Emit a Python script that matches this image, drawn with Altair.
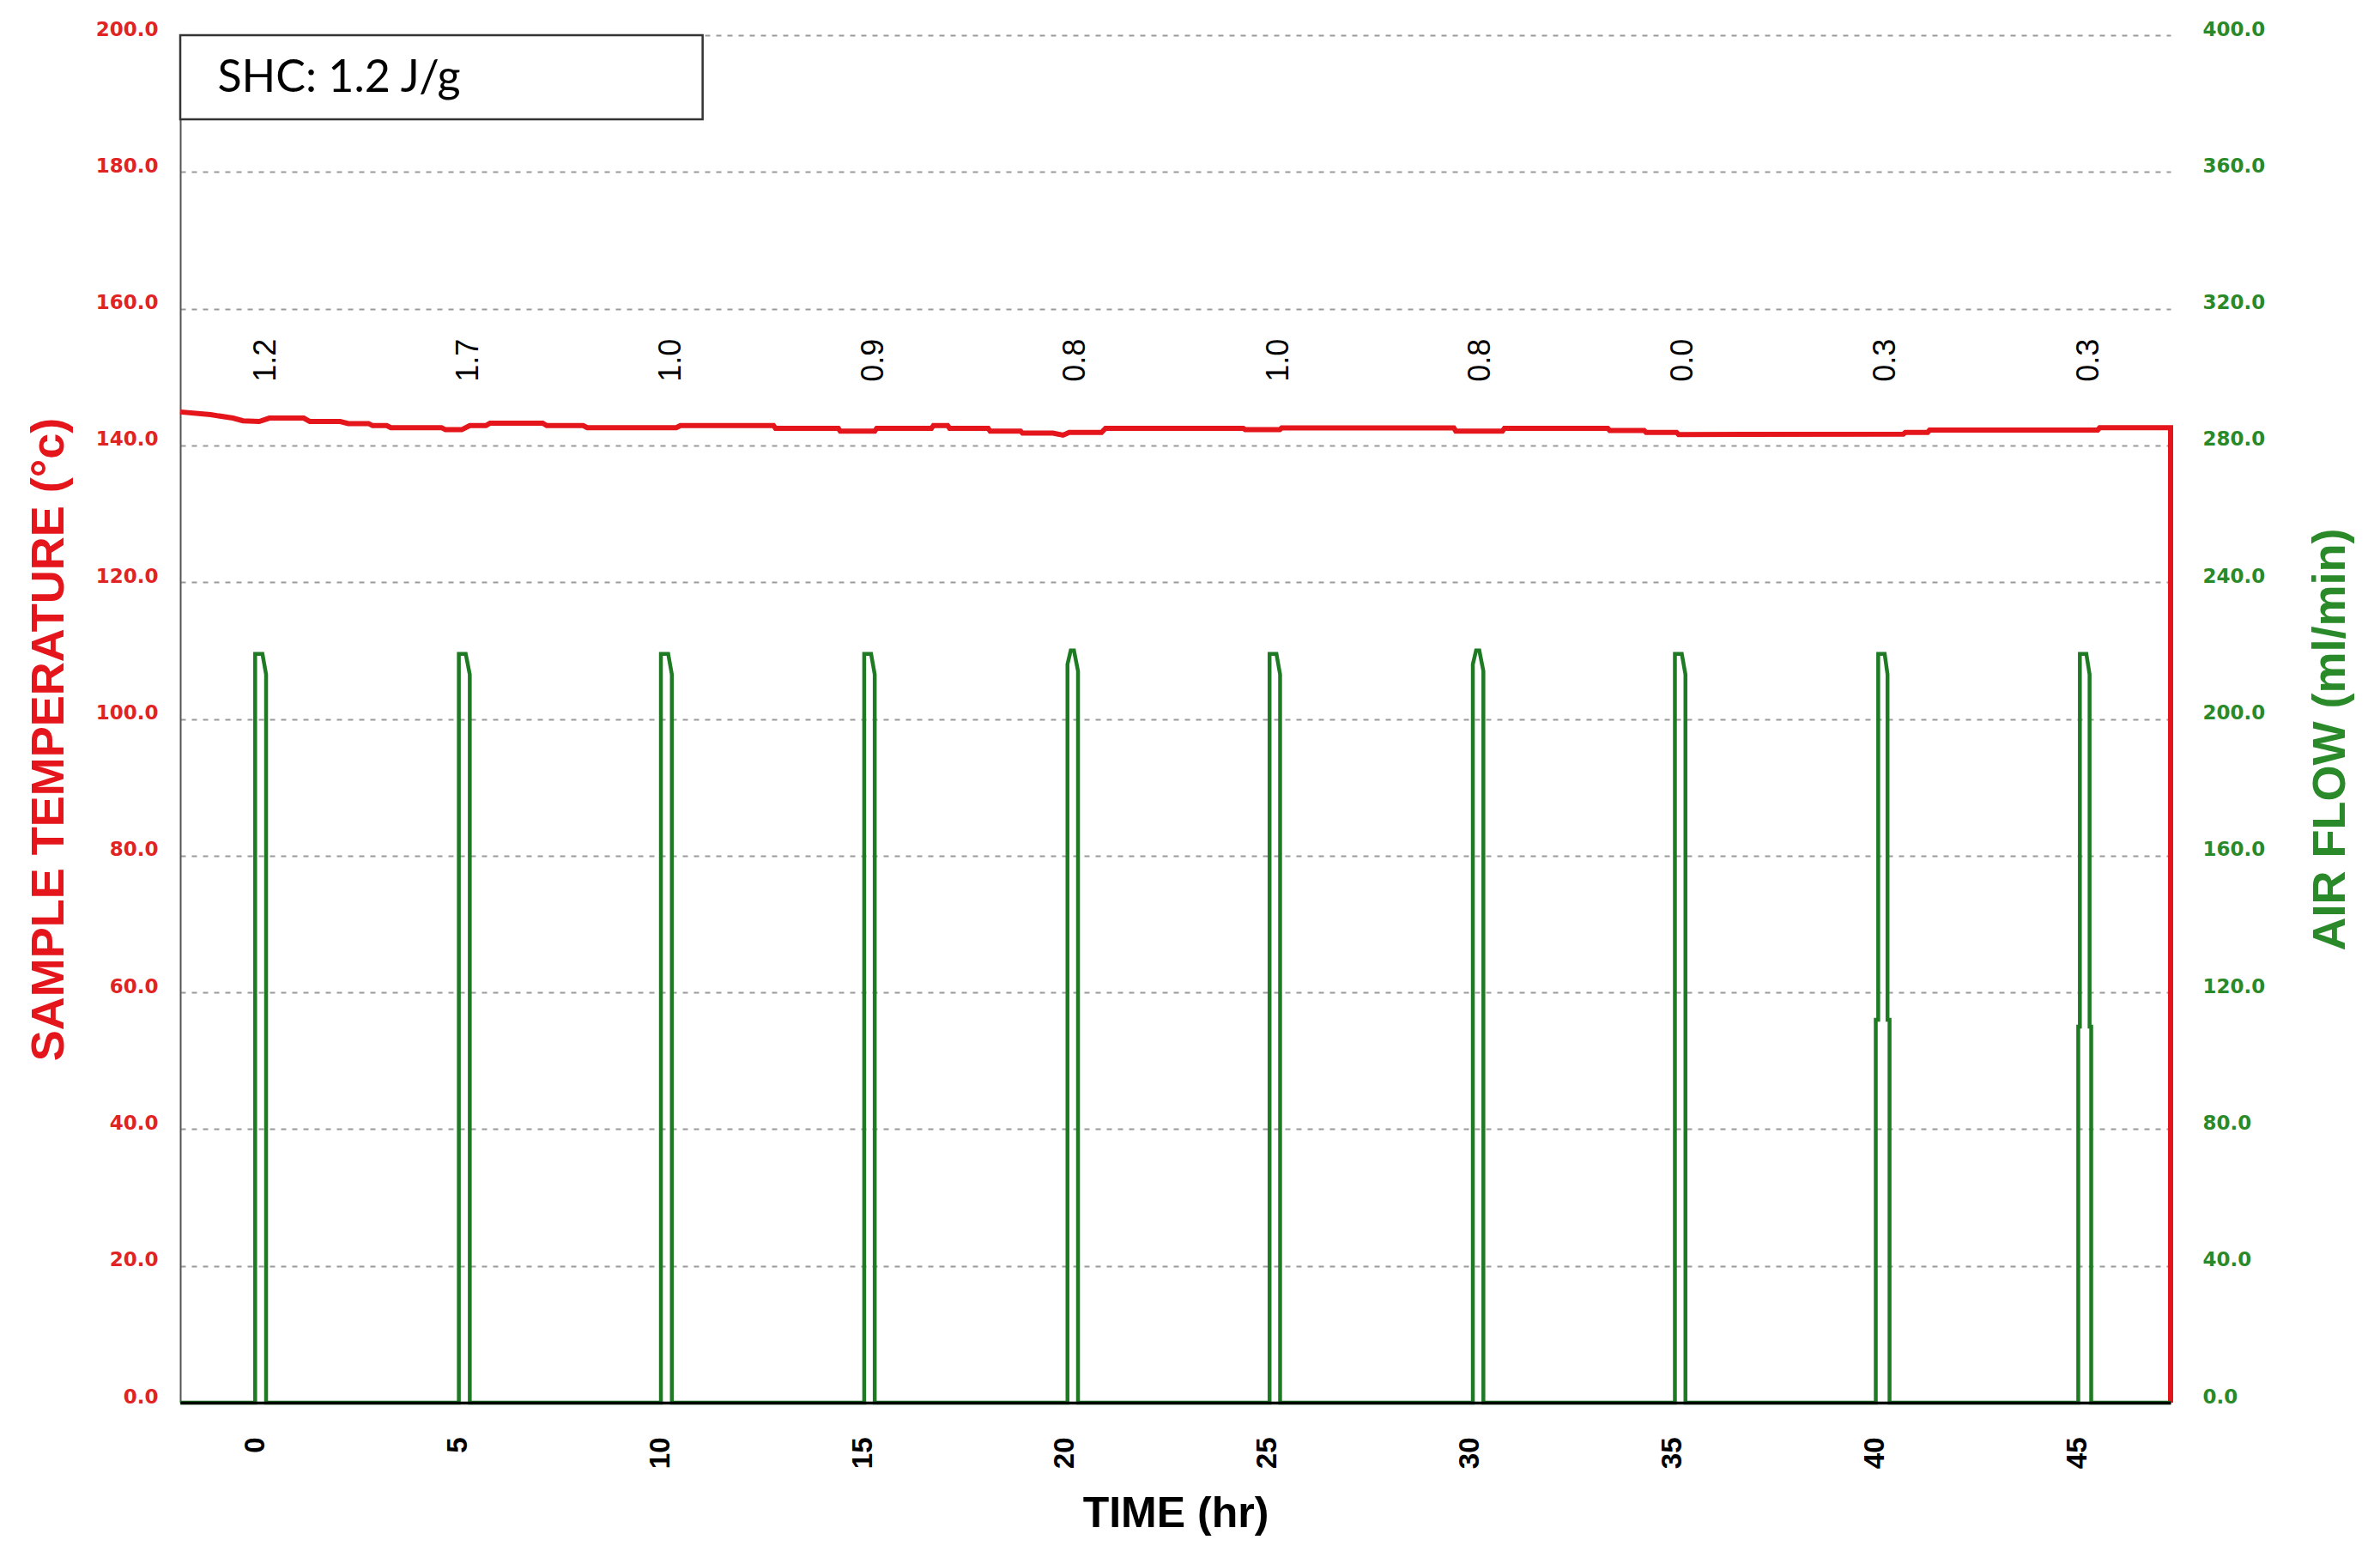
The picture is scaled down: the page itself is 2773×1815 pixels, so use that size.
import altair as alt
import pandas as pd

# ---------------- data ----------------
# Sample temperature (°C, left axis) vs time (hr)
temp_t = [-1.85, -1.1, -0.55, -0.3, 0.1, 0.35, 1.2, 1.35, 2.1, 2.3, 2.8, 2.9, 3.25, 3.35,
          4.6, 4.7, 5.1, 5.3, 5.7, 5.8, 7.1, 7.2, 8.1, 8.2, 10.4, 10.5, 12.8, 12.85,
          14.4, 14.45, 15.3, 15.35, 16.7, 16.75, 17.1, 17.15, 18.1, 18.15, 18.9, 18.95,
          19.7, 19.95, 20.1, 20.9, 21.0, 24.4, 24.45, 25.3, 25.35, 29.6, 29.65, 30.8,
          30.85, 33.4, 33.45, 34.3, 34.35, 35.1, 35.15, 40.7, 40.75, 41.3, 41.35, 45.5,
          45.55, 47.3, 47.3]
temp_v = [144.9, 144.5, 144.0, 143.6, 143.5, 144.0, 144.0, 143.5, 143.5, 143.2, 143.2, 142.9,
          142.9, 142.6, 142.6, 142.3, 142.3, 142.9, 142.9, 143.25, 143.25, 142.9, 142.9,
          142.6, 142.6, 142.9, 142.9, 142.5, 142.5, 142.1, 142.1, 142.5, 142.5, 142.9,
          142.9, 142.5, 142.5, 142.1, 142.1, 141.8, 141.8, 141.5, 141.9, 141.9, 142.5,
          142.5, 142.3, 142.3, 142.55, 142.55, 142.1, 142.1, 142.5, 142.5, 142.2, 142.2,
          141.9, 141.9, 141.6, 141.65, 141.9, 141.9, 142.25, 142.25, 142.6, 142.6, 0.0]

# Air flow (ml/min, right axis) vs time (hr)
flow_t = [-1.85,
          0.00, 0.00, 0.18, 0.27, 0.27,
          5.03, 5.03, 5.20, 5.30, 5.30,
          10.02, 10.02, 10.20, 10.29, 10.29,
          15.04, 15.04, 15.21, 15.30, 15.30,
          20.06, 20.06, 20.14, 20.22, 20.32, 20.32,
          25.05, 25.05, 25.22, 25.31, 25.31,
          30.07, 30.07, 30.15, 30.23, 30.33, 30.33,
          35.06, 35.06, 35.23, 35.32, 35.32,
          40.02, 40.02, 40.08, 40.08, 40.24, 40.31, 40.31, 40.36, 40.36,
          45.02, 45.02, 45.06, 45.06, 45.22, 45.30, 45.30, 45.34, 45.34,
          47.30]
flow_v = [0,
          0, 219, 219, 213, 0,
          0, 219, 219, 213, 0,
          0, 219, 219, 213, 0,
          0, 219, 219, 213, 0,
          0, 216, 220, 220, 214, 0,
          0, 219, 219, 213, 0,
          0, 216, 220, 220, 214, 0,
          0, 219, 219, 213, 0,
          0, 112, 112, 219, 219, 213, 112, 112, 0,
          0, 110, 110, 219, 219, 213, 110, 110, 0,
          0]

# rotated per-cycle values written above the curve
cycle_t = [0.28, 5.28, 10.28, 15.27, 20.26, 25.27, 30.26, 35.26, 40.27, 45.28]
cycle_lbl = ["1.2", "1.7", "1.0", "0.9", "0.8", "1.0", "0.8", "0.0", "0.3", "0.3"]
cycle_y = [149.3] * 10

x_ticks = [0, 5, 10, 15, 20, 25, 30, 35, 40, 45]
temp_ticks = [0, 20, 40, 60, 80, 100, 120, 140, 160, 180, 200]
flow_ticks = [0, 40, 80, 120, 160, 200, 240, 280, 320, 360, 400]

box_text = ["SHC: 1.2 J/g"]
box_x0, box_x1, box_y0, box_y1 = [-1.85], [11.05], [187.7], [200.0]
box_tx, box_ty = [-0.93], [191.7]

# ---------------- styling ----------------
RED = "#e4161c"
RED_LBL = "#e02424"
GREEN = "#1e7b24"
GREEN_LBL = "#2a8a2a"

temp_df = pd.DataFrame({"t": temp_t, "v": temp_v, "i": list(range(len(temp_t)))})
flow_df = pd.DataFrame({"t": flow_t, "v": flow_v, "i": list(range(len(flow_t)))})
lbl_df = pd.DataFrame({"t": cycle_t, "v": cycle_y, "txt": cycle_lbl})
box_df = pd.DataFrame({"x0": box_x0, "x1": box_x1, "y0": box_y0, "y1": box_y1,
                       "tx": box_tx, "ty": box_ty, "txt": box_text})

x_scale = alt.Scale(domain=[-1.85, 47.3], nice=False, zero=False)
x_axis = alt.Axis(values=x_ticks, labelAngle=270, ticks=False, grid=False,
                  domainColor="black", domainWidth=3.5,
                  labelFont="Liberation Sans", labelFontSize=33, labelFontWeight="bold",
                  labelColor="black", labelPadding=40, labelOverlap=False,
                  title="TIME (hr)", titleFont="Liberation Sans", titleFontSize=50,
                  titleFontWeight="bold", titleColor="black", titlePadding=28, zindex=1)

yl_scale = alt.Scale(domain=[0, 200], nice=False, zero=True)
yl_axis = alt.Axis(values=temp_ticks, format=".1f", ticks=False,
                   labelFont="DejaVu Sans", labelFontWeight="bold", labelFontSize=23,
                   labelColor=RED_LBL, labelBaseline="alphabetic", labelPadding=26,
                   labelOverlap=False,
                   domainColor="#555555", domainWidth=2,
                   grid=True, gridColor="#9a9a9a", gridDash=[6, 7], gridWidth=2,
                   title="SAMPLE TEMPERATURE (°c)", titleFont="Liberation Sans",
                   titleFontSize=54, titleFontWeight="bold", titleColor=RED,
                   titlePadding=27, titleY=820)

yr_scale = alt.Scale(domain=[0, 400], nice=False, zero=True)
yr_axis = alt.Axis(values=flow_ticks, format=".1f", ticks=False, orient="right",
                   labelFont="DejaVu Sans", labelFontWeight="bold", labelFontSize=23,
                   labelColor=GREEN_LBL, labelBaseline="alphabetic", labelPadding=37,
                   labelOverlap=False, domain=False, grid=False,
                   title="AIR FLOW (ml/min)", titleFont="Liberation Sans",
                   titleFontSize=54, titleFontWeight="bold", titleColor=GREEN_LBL,
                   titleAngle=270, titleBaseline="top", titlePadding=50, titleY=820)

X = lambda f: alt.X(f, type="quantitative", scale=x_scale, axis=x_axis)
YL = lambda f: alt.Y(f, type="quantitative", scale=yl_scale, axis=yl_axis)

temp_line = alt.Chart(temp_df).mark_line(color=RED, strokeWidth=6, interpolate="linear").encode(
    x=X("t"), y=YL("v"), order="i:Q")

labels = alt.Chart(lbl_df).mark_text(angle=270, align="left", baseline="middle",
                                     font="Liberation Sans", fontSize=36, color="black").encode(
    x=X("t"), y=YL("v"), text="txt:N")

box = alt.Chart(box_df).mark_rect(fill="white", stroke="#333333", strokeWidth=2.5).encode(
    x=X("x0"), x2="x1", y=YL("y0"), y2="y1")

box_label = alt.Chart(box_df).mark_text(align="left", baseline="alphabetic", font="Lato",
                                        fontSize=52, color="black").encode(
    x=X("tx"), y=YL("ty"), text="txt:N")

left = alt.layer(temp_line, labels, box, box_label)

flow_line = alt.Chart(flow_df).mark_line(color=GREEN, strokeWidth=4.5, interpolate="linear").encode(
    x=X("t"),
    y=alt.Y("v", type="quantitative", scale=yr_scale, axis=yr_axis),
    order="i:Q")

chart = alt.layer(left, flow_line).resolve_scale(y="independent").properties(
    width=2319, height=1593,
    autosize=alt.AutoSizeParams(type="none"),
    padding={"left": 202, "top": 33, "right": 236, "bottom": 170},
    background="white",
).configure_view(strokeWidth=0)

chart.save("out.html", embed_options={"renderer": "svg", "actions": False})
